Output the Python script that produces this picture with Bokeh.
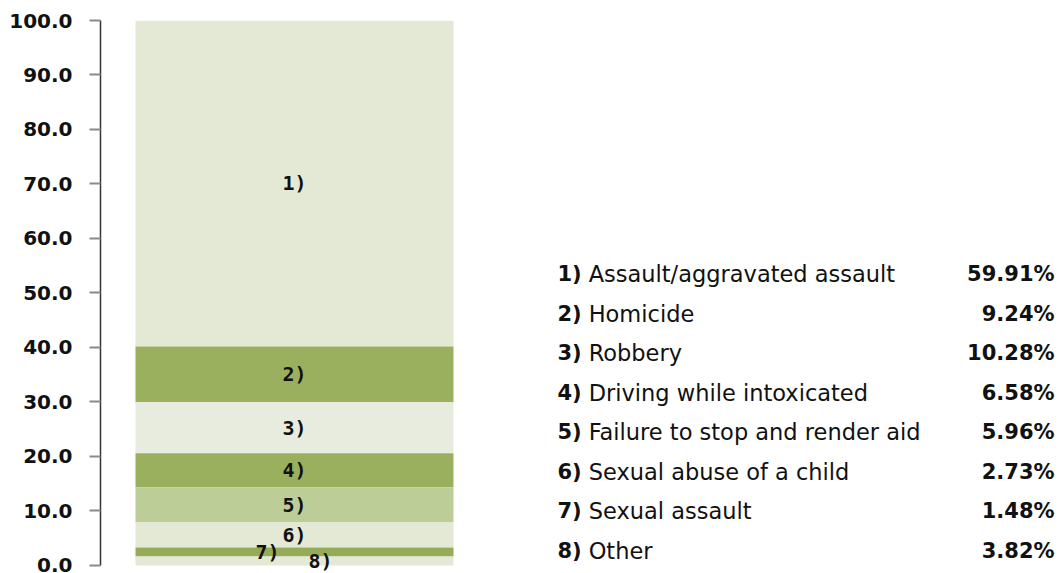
from bokeh.plotting import figure
from bokeh.models import Range1d, FixedTicker, PrintfTickFormatter, ColumnDataSource
from bokeh.core.properties import value
from bokeh.embed import file_html
from bokeh.resources import INLINE

# ---- data ----
numbers = ["1)", "2)", "3)", "4)", "5)", "6)", "7)", "8)"]
categories = ["Assault/aggravated assault", "Homicide", "Robbery",
              "Driving while intoxicated", "Failure to stop and render aid",
              "Sexual abuse of a child", "Sexual assault", "Other"]
percents = [59.91, 9.24, 10.28, 6.58, 5.96, 2.73, 1.48, 3.82]
# segment heights as drawn in the bar (top segment 1 ... bottom segment 8)
segment_heights = [59.80, 10.24, 9.36, 6.23, 6.37, 4.70, 1.65, 1.65]
tick_values = [0, 10, 20, 30, 40, 50, 60, 70, 80, 90, 100]

# ---- styles ----
colors = ["#E3E9D4", "#9BB05E", "#E8ECDE", "#9BB05E", "#BCCD98", "#E3E9D4", "#95AB58", "#E3E9D4"]
label_dx = [0, 0, 0, 0, 0, 0, -27, 26]

# stack from the bottom (segment 8) upward
bottoms = [0.0] * len(segment_heights)
acc = 0.0
for i in reversed(range(len(segment_heights))):
    bottoms[i] = acc
    acc += segment_heights[i]
tops = [b + h for b, h in zip(bottoms, segment_heights)]
mids = [(b + t) / 2 for b, t in zip(bottoms, tops)]

bar_src = ColumnDataSource(dict(x=[0] * len(numbers), bottom=bottoms, top=tops,
                                color=colors, mid=mids, num=numbers, dx=label_dx))

p = figure(width=1062, height=573, output_backend="svg", toolbar_location=None,
           x_range=Range1d(-0.610, 2.415), y_range=Range1d(-1.468, 100),
           x_axis_location=None,
           min_border_left=100, min_border_right=0, min_border_top=20, min_border_bottom=0)
p.grid.visible = False
p.outline_line_color = None
p.background_fill_color = "white"
p.border_fill_color = "white"

p.vbar(x="x", bottom="bottom", top="top", width=1.0, fill_color="color",
       line_color=None, source=bar_src)

p.text(x="x", y="mid", text="num", x_offset="dx", source=bar_src,
       text_font=value("DejaVu Sans Mono"), text_font_style="bold",
       text_font_size="20px", text_color="#111111",
       text_align="center", text_baseline="middle")

# y axis
ax = p.yaxis[0]
ax.ticker = FixedTicker(ticks=tick_values)
ax.formatter = PrintfTickFormatter(format="%.1f")
ax.bounds = (0, 100)
ax.axis_line_color = "#333333"
ax.axis_line_width = 1.5
ax.major_tick_line_color = "#8a8a8a"
ax.major_tick_line_width = 2
ax.major_tick_out = 11
ax.major_tick_in = 0
ax.minor_tick_line_color = None
ax.major_label_text_font = "DejaVu Sans"
ax.major_label_text_font_style = "bold"
ax.major_label_text_font_size = "20px"
ax.major_label_text_color = "#111111"
ax.major_label_standoff = 17

# legend table (layout positions in data units of this frame)
legend_top = 53.45
legend_step = 7.25
leg_y = [legend_top - i * legend_step for i in range(len(numbers))]
leg_src = ColumnDataSource(dict(y=leg_y, num=numbers, cat=categories,
                                pct=["%.2f%%" % v for v in percents]))
p.text(x=0.827, y="y", text="num", source=leg_src,
       text_font=value("DejaVu Sans"), text_font_style="bold",
       text_font_size="21px", text_color="#111111",
       text_align="left", text_baseline="alphabetic")
p.text(x=0.925, y="y", text="cat", source=leg_src,
       text_font=value("DejaVu Sans"), text_font_size="22.5px", text_color="#111111",
       text_align="left", text_baseline="alphabetic")
p.text(x=2.390, y="y", text="pct", source=leg_src,
       text_font=value("DejaVu Sans"), text_font_style="bold",
       text_font_size="21px", text_color="#111111",
       text_align="right", text_baseline="alphabetic")

open("out.html", "w").write(file_html(p, INLINE))
